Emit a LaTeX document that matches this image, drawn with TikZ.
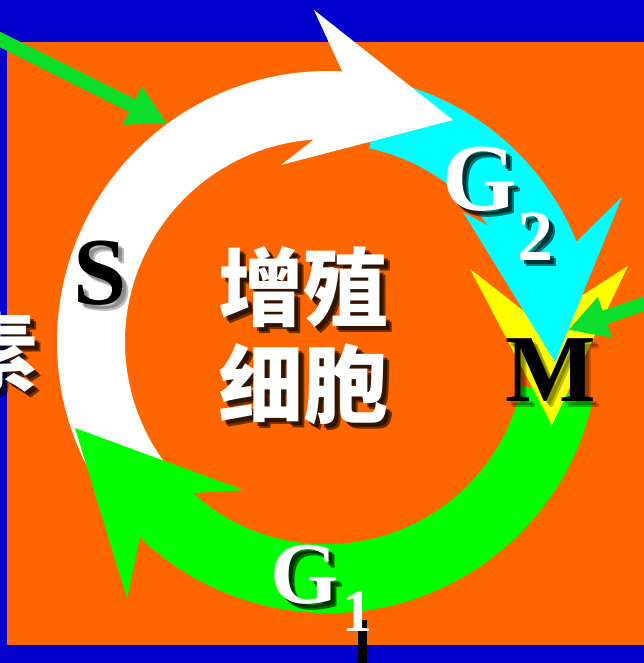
\documentclass[tikz,border=0pt]{standalone}
\usepackage{fontspec}
\setmainfont{Liberation Serif}
\newfontfamily\cjk{Noto Sans CJK SC}
\usetikzlibrary{calc,arrows.meta}
\definecolor{bgblue}{RGB}{0,0,204}
\definecolor{bgorange}{RGB}{255,102,0}
\definecolor{scyan}{RGB}{0,255,255}
\definecolor{sgreen}{RGB}{0,255,0}
\definecolor{agreen}{RGB}{10,221,42}
\definecolor{syellow}{RGB}{255,255,0}
\tikzset{
  sband/.style={fill=white},
  gtwoband/.style={fill=scyan},
  goneband/.style={fill=sgreen},
  mband/.style={fill=syellow},
  thinarrow/.style={draw=agreen, line width=14pt, -{Triangle[length=39pt,width=40pt]}},
  whitetxt/.style={text=white, inner sep=0pt},
  blacktxt/.style={text=black, inner sep=0pt},
  darkshadow/.style={text=black, inner sep=0pt, opacity=0.55},
  lightshadow/.style={text=black, inner sep=0pt, opacity=0.25},
  cjkbig/.style={font=\cjk\bfseries\fontsize{85}{97}\selectfont},
  latbig/.style={font=\bfseries\fontsize{96}{100}\selectfont},
}
\begin{document}
\begin{tikzpicture}[x=1pt,y=-1pt]
\useasboundingbox (0,0) rectangle (644,663);
\fill[bgblue] (0,0) rectangle (644,663);
\fill[bgorange] (7,42) rectangle (644,645);
\coordinate (C) at (328,342);

% G1 band (green)
\path[goneband] ($(C)+(12:271)$) arc[start angle=12,end angle=134,radius=271]
  -- (127,598) -- (75,428) -- (243,490) -- ($(C)+(132:203)$)
  arc[start angle=132,end angle=12,radius=200] -- cycle;
% M (yellow)
\path[mband] (470,269) -- (525,312) -- (552,300) -- (578,298) -- (628,266) -- (552,425) -- cycle;
% G2 band (cyan)
\path[gtwoband] ($(C)+(282:268)$) arc[start angle=282,end angle=338,radius=268]
  -- (622,197) -- (555,362) -- (463,212) -- ($(C)+(324:198)$)
  arc[start angle=324,end angle=282,radius=198] -- cycle;
% S band (white)
\path[sband] ($(C)+(140:271)$) arc[start angle=140,end angle=273,radius=271]
  -- (314,10) -- (453,120) -- (281,165) -- ($(C)+(266:203)$)
  arc[start angle=266,end angle=140,radius=203] -- cycle;
% G1 head again on top of S
\path[goneband] ($(C)+(118:271)$) arc[start angle=118,end angle=134,radius=271]
  -- (127,598) -- (75,428) -- (243,490) -- ($(C)+(132:203)$)
  arc[start angle=132,end angle=118,radius=203] -- cycle;

% thin green arrows
\coordinate (a1s) at (-5,37);
\coordinate (a1t) at (167,123);
\coordinate (a2s) at (652,301);
\coordinate (a2t) at (568,330);
\draw[thinarrow] (a1s) -- (a1t);
\draw[thinarrow] (a2s) -- (a2t);

% small black bar at bottom
\fill[black] (358,620) rectangle (367,663);

% texts (soft shadow: two offset layers)
\node[darkshadow,cjkbig] (t1s) at (309,293) {增殖};
\node[darkshadow,cjkbig] (t1r) at (307,291) {增殖};
\node[whitetxt,cjkbig] (t1) at (303,287) {增殖};
\node[darkshadow,cjkbig] (t2s) at (309,390) {细胞};
\node[darkshadow,cjkbig] (t2r) at (307,388) {细胞};
\node[whitetxt,cjkbig] (t2) at (303,384) {细胞};
\node[darkshadow,cjkbig] (t3s) at (1,358) {素};
\node[darkshadow,cjkbig] (t3r) at (-1,356) {素};
\node[whitetxt,cjkbig] (t3) at (-5,352) {素};

\node[lightshadow,latbig] (ss) at (106,279) {S};
\node[lightshadow,latbig] (ssr) at (104,277) {S};
\node[blacktxt,latbig] (s) at (100,273) {S};
\node[lightshadow,latbig] (ms) at (557,376) {M};
\node[lightshadow,latbig] (msr) at (555,374) {M};
\node[blacktxt,latbig] (m) at (551,370) {M};

\node[darkshadow,latbig] (g2s) at (486,185) {G};
\node[darkshadow,latbig] (g2r) at (484,183) {G};
\node[whitetxt,latbig] (g2) at (480,179) {G};
\node[darkshadow,font=\bfseries\fontsize{72}{74}\selectfont] (g2is) at (541,243) {2};
\node[darkshadow,font=\bfseries\fontsize{72}{74}\selectfont] (g2ir) at (539,241) {2};
\node[whitetxt,font=\bfseries\fontsize{72}{74}\selectfont] (g2i) at (535,237) {2};

\node[darkshadow,font=\bfseries\fontsize{88}{90}\selectfont] (g1s) at (311,581) {G};
\node[darkshadow,font=\bfseries\fontsize{88}{90}\selectfont] (g1r) at (309,579) {G};
\node[whitetxt,font=\bfseries\fontsize{88}{90}\selectfont] (g1) at (305,575) {G};
\node[whitetxt,font=\bfseries\fontsize{60}{62}\selectfont] (g1i) at (357,612) {1};
\end{tikzpicture}
\end{document}
